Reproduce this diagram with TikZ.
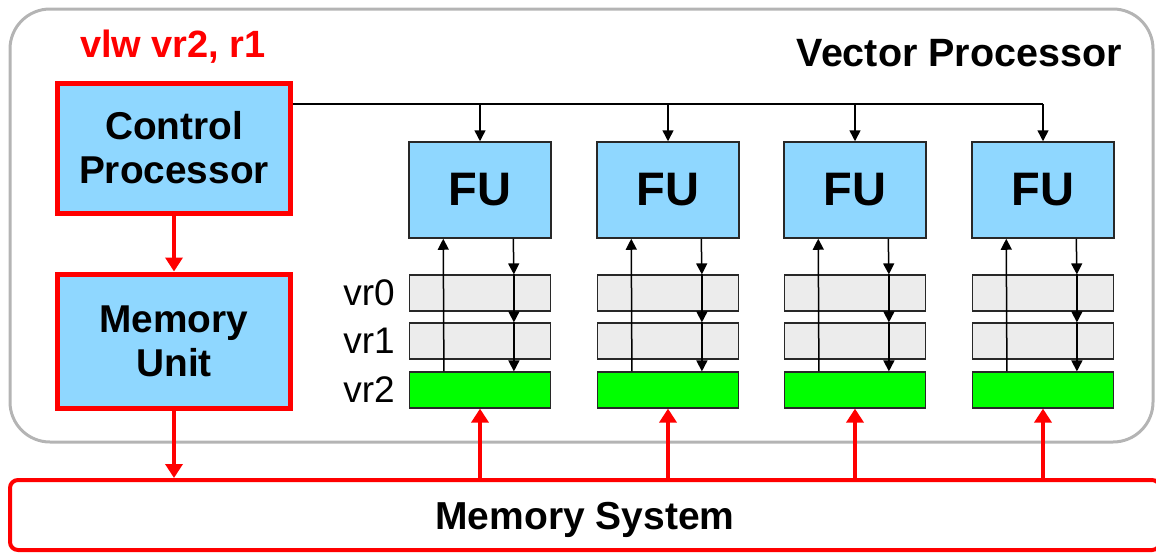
\documentclass[tikz,border=0pt]{standalone}
\usepackage{fontspec}
\setmainfont{Liberation Sans}
\usetikzlibrary{arrows.meta}
\definecolor{fublue}{RGB}{143,215,255}
\definecolor{vgreen}{RGB}{0,255,0}
\definecolor{redc}{RGB}{255,0,0}
\definecolor{outergray}{RGB}{180,180,180}
\definecolor{reggray}{RGB}{236,236,236}
\definecolor{edgec}{RGB}{40,40,40}
\begin{document}
\begin{tikzpicture}[x=1pt,y=-1pt,
  redbox/.style={draw=redc, line width=5, fill=fublue, minimum width=233, inner sep=0, align=center, font=\fontsize{38.8}{44}\selectfont\bfseries},
  fubox/.style={draw=edgec, line width=1.5, fill=fublue, minimum width=142, minimum height=96, inner sep=0, font=\fontsize{47}{50}\selectfont\bfseries},
  regbox/.style={draw=edgec, line width=1.2, fill=reggray, minimum width=141, minimum height=36, inner sep=0},
  vrbox/.style={draw=edgec, line width=1.2, fill=vgreen, minimum width=141, minimum height=36, inner sep=0},
  reglabel/.style={inner sep=0, font=\fontsize{37}{40}\selectfont},
  barrow/.style={draw=black, line width=1.5, -{Triangle[length=11,width=11]}},
  bline/.style={draw=black, line width=1.5},
  rarrow/.style={draw=redc, line width=4, -{Triangle[length=14,width=17]}},
]
\useasboundingbox (0,0) rectangle (1156,552);
\draw[outergray, line width=3, rounded corners=40] (10,9) rectangle (1153,442);

\node[inner sep=0, text=redc, font=\fontsize{38}{40}\selectfont\bfseries] (instr) at (173,47) {vlw vr2, r1};
\node[inner sep=0, anchor=east, font=\fontsize{39.5}{40}\selectfont\bfseries] (vp) at (1122,53) {Vector Processor};

\node[redbox, minimum height=130] (cp) at (174,148) {Control\\Processor};
\node[redbox, minimum height=134] (mu) at (174,341) {Memory\\Unit};

\node[draw=redc, line width=4, rounded corners=8, minimum width=1150, minimum height=70, inner sep=0,
  label={[inner sep=0, yshift=-5pt, font=\fontsize{39}{40}\selectfont\bfseries]center:Memory System}] (ms) at (585,515) {};

\foreach \i/\x in {1/480,2/668,3/855,4/1043}{
  \node[fubox] (fu\i) at (\x,190) {FU};
  \node[regbox] (r0\i) at (\x,293) {};
  \node[regbox] (r1\i) at (\x,341) {};
  \node[vrbox] (r2\i) at (\x,390) {};
}
\node[reglabel] (l0) at (369,293) {vr0};
\node[reglabel] (l1) at (369,341) {vr1};
\node[reglabel] (l2) at (369,390) {vr2};

\coordinate (bus) at (cp.east |- 0,104);
\draw[bline] (bus) -- (bus -| fu4.north);
\foreach \i in {1,2,3,4}{
  \draw[barrow] (bus -| fu\i.north) -- (fu\i.north);
  \draw[barrow] ([xshift=35]r2\i.north west) -- ([xshift=35]fu\i.south west);
  \draw[barrow] ([xshift=105]fu\i.south west) -- ([xshift=105]r0\i.north west);
  \draw[barrow] ([xshift=105]r0\i.north west) -- ([xshift=105]r1\i.north west);
  \draw[barrow] ([xshift=105]r1\i.north west) -- ([xshift=105]r2\i.north west);
  \draw[rarrow] (ms.north -| r2\i.south) -- (r2\i.south);
}
\draw[rarrow] (cp.south) -- (mu.north);
\draw[rarrow] (mu.south) -- (mu.south |- ms.north);
\end{tikzpicture}
\end{document}
